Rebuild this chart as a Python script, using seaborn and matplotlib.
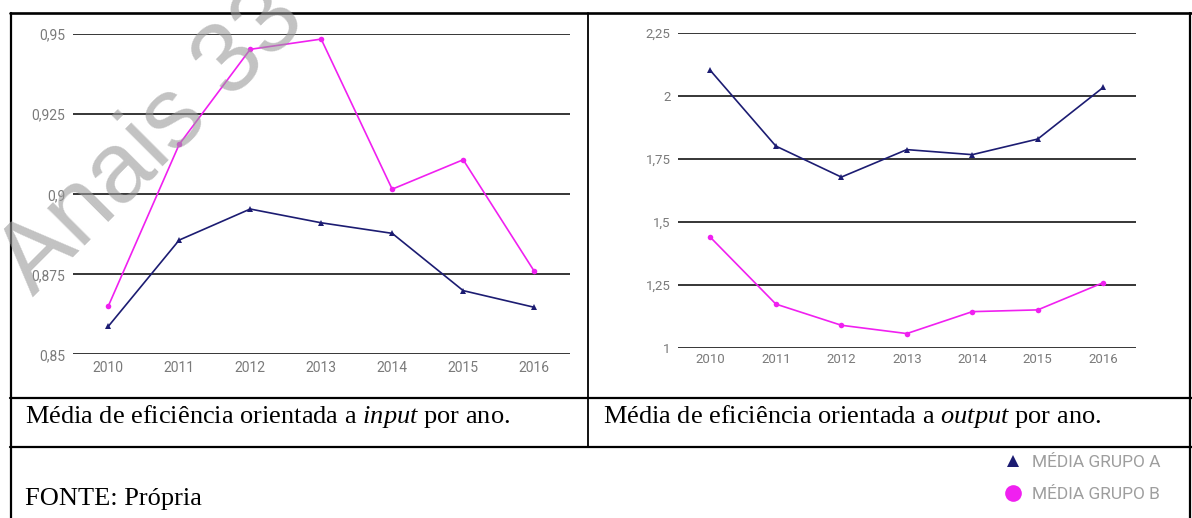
import pandas as pd
import matplotlib.pyplot as plt
import seaborn as sns
from matplotlib.lines import Line2D

# dados (media de eficiencia por ano)
anos = [2010, 2011, 2012, 2013, 2014, 2015, 2016]
grupos = ["MÉDIA GRUPO A", "MÉDIA GRUPO B"]
input_a = [0.8587, 0.8857, 0.8954, 0.8911, 0.8878, 0.8699, 0.8647]
input_b = [0.8650, 0.9156, 0.9453, 0.9485, 0.9016, 0.9108, 0.8760]
output_a = [2.100, 1.800, 1.677, 1.786, 1.766, 1.828, 2.033]
output_b = [1.438, 1.173, 1.089, 1.056, 1.143, 1.150, 1.258]
input_ticks = [0.85, 0.875, 0.9, 0.925, 0.95]
input_labels = ["0,85", "0,875", "0,9", "0,925", "0,95"]
output_ticks = [1, 1.25, 1.5, 1.75, 2, 2.25]
output_labels = ["1", "1,25", "1,5", "1,75", "2", "2,25"]
legenda_input = r"Média de eficiência orientada a $\mathit{input}$ por ano."
legenda_output = r"Média de eficiência orientada a $\mathit{output}$ por ano."
fonte = "FONTE: Própria"
marca = "Anais 33"

cores = {grupos[0]: "#1c1c72", grupos[1]: "#f020f0"}
cinza = "#7a7a7a"

sns.set_theme(style="white")
plt.rcParams["font.family"] = ["Roboto", "DejaVu Sans"]
plt.rcParams["mathtext.fontset"] = "custom"
plt.rcParams["mathtext.rm"] = "Liberation Serif"
plt.rcParams["mathtext.it"] = "Liberation Serif:italic"


def painel(ax, serie_a, serie_b, ticks, labels, fs, ypad, xpad):
    df = pd.DataFrame({
        "ano": anos * 2,
        "valor": serie_a + serie_b,
        "grupo": [grupos[0]] * len(anos) + [grupos[1]] * len(anos),
    })
    sns.lineplot(data=df, x="ano", y="valor", hue="grupo", style="grupo",
                 markers=["^", "o"], dashes=False, palette=cores,
                 linewidth=1.2, markersize=4, markeredgewidth=0,
                 legend=False, ax=ax)
    ax.set_xlim(anos[0] - 0.5, anos[-1] + 0.5)
    ax.set_ylim(ticks[0], ticks[-1])
    ax.set_xticks(anos)
    ax.set_xticklabels([str(a) for a in anos])
    ax.set_yticks(ticks)
    ax.set_yticklabels(labels)
    ax.yaxis.grid(True, color="black", linewidth=1.1)
    ax.xaxis.grid(False)
    ax.set_axisbelow(True)
    for s in ax.spines.values():
        s.set_visible(False)
    ax.tick_params(axis="y", length=0, labelsize=fs, labelcolor=cinza, pad=ypad)
    ax.tick_params(axis="x", length=0, labelsize=fs, labelcolor=cinza, pad=xpad)
    ax.set_xlabel("")
    ax.set_ylabel("")


fig = plt.figure(figsize=(11.92, 5.18), dpi=100)
fig.patch.set_facecolor("white")

ax1 = fig.add_axes([0.061, 0.316, 0.4169, 0.6178])
painel(ax1, input_a, input_b, input_ticks, input_labels, 10, 5.5, 4.5)

ax2 = fig.add_axes([0.5685, 0.3288, 0.3845, 0.6081])
painel(ax2, output_a, output_b, output_ticks, output_labels, 9.5, 5, 3.5)

# bordas da tabela
bordas = [
    ((0.008, 1.0), (0.9749, 0.9749), 1.9),
    ((0.0092, 0.0092), (0.0, 0.9749), 1.6),
    ((0.4933, 0.4933), (0.1371, 0.9749), 1.3),
    ((0.998, 0.998), (0.0, 0.9749), 1.6),
    ((0.008, 1.0), (0.2317, 0.2317), 1.6),
    ((0.008, 1.0), (0.1371, 0.1371), 1.6),
]
for xs, ys, lw in bordas:
    fig.add_artist(Line2D(xs, ys, color="black", linewidth=lw,
                          transform=fig.transFigure))

serif = ["Liberation Serif", "DejaVu Serif"]
fig.text(0.021, 0.1834, legenda_input, fontsize=19, family=serif,
         va="baseline", ha="left", color="black")
fig.text(0.5059, 0.1834, legenda_output, fontsize=19, family=serif,
         va="baseline", ha="left", color="black")
fig.text(0.021, 0.0251, fonte, fontsize=19, family=serif,
         va="baseline", ha="left", color="black")

handles = [
    Line2D([], [], marker="^", color=cores[grupos[0]], linestyle="",
           markersize=9, markeredgewidth=0),
    Line2D([], [], marker="o", color=cores[grupos[1]], linestyle="",
           markersize=12, markeredgewidth=0),
]
fig.legend(handles, grupos, loc="center left",
           bbox_to_anchor=(0.8414, 0.0763), frameon=False,
           fontsize=12.5, labelcolor="#9e9e9e", handlelength=1.2,
           handletextpad=0.45, labelspacing=1.0, borderpad=0,
           borderaxespad=0)

# marca d'agua
fig.text(0.128, 0.728, marca, fontsize=72, rotation=45,
         rotation_mode="anchor", ha="center", va="center",
         family=["Liberation Sans", "DejaVu Sans"], color="#9a9a9a",
         alpha=0.6, zorder=10)

fig.savefig("out.png", dpi=100, facecolor="white")
